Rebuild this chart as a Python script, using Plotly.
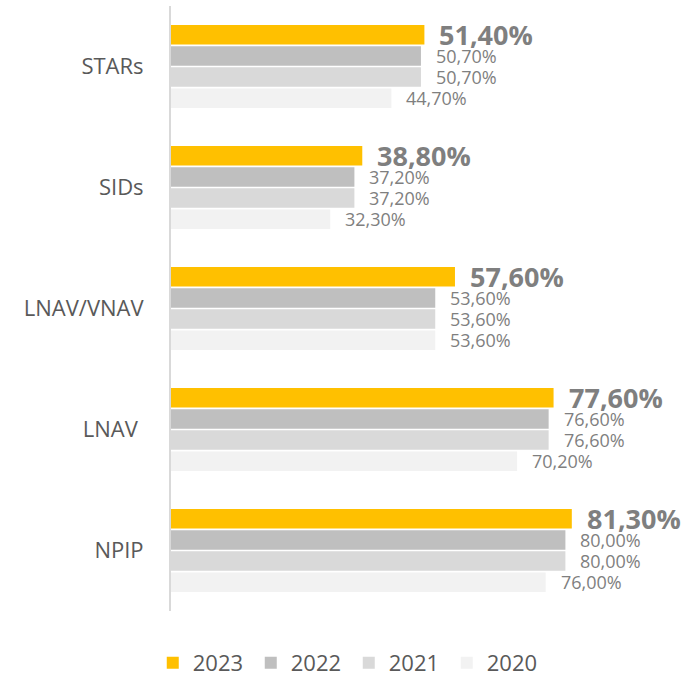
import plotly.graph_objects as go

categories = ["STARs", "SIDs", "LNAV/VNAV", "LNAV ", "NPIP"]
series_names = ["2023", "2022", "2021", "2020"]
values_2023 = [51.4, 38.8, 57.6, 77.6, 81.3]
values_2022 = [50.7, 37.2, 53.6, 76.6, 80.0]
values_2021 = [50.7, 37.2, 53.6, 76.6, 80.0]
values_2020 = [44.7, 32.3, 53.6, 70.2, 76.0]
colors = ["#FFC000", "#BFBFBF", "#D9D9D9", "#F2F2F2"]

all_values = [values_2023, values_2022, values_2021, values_2020]

BARGAP = 0.30
fig = go.Figure()
for name, vals, col in zip(series_names, all_values, colors):
    fig.add_trace(go.Bar(
        y=categories, x=vals, name=name, orientation="h",
        marker=dict(color=col, line=dict(width=0)),
        hoverinfo="skip",
    ))

def fmt(v):
    return f"{v:.2f}".replace(".", ",") + "%"

slot = (1 - BARGAP) / 4
annotations = []
for j, vals in enumerate(all_values):
    for i, v in enumerate(vals):
        bold = j == 0
        annotations.append(dict(
            x=v, y=i + (j - 1.5) * slot, xref="x", yref="y",
            text=f"<b>{fmt(v)}</b>" if bold else fmt(v),
            showarrow=False, xanchor="left", yanchor="middle",
            xshift=13,
            font=dict(size=27 if bold else 18, color="#7F7F7F", family="Open Sans"),
        ))

fig.update_layout(
    width=686, height=674,
    margin=dict(l=171, r=22, t=6, b=63, autoexpand=False),
    barmode="group", bargap=BARGAP, bargroupgap=0.08,
    plot_bgcolor="white", paper_bgcolor="white",
    font=dict(family="Open Sans", color="#595959"),
    annotations=annotations,
    showlegend=True,
    legend=dict(orientation="h", x=-0.037, xanchor="left", y=-0.051, yanchor="top",
                font=dict(size=22, color="#595959"), traceorder="normal",
                entrywidth=53, entrywidthmode="pixels"),
    xaxis=dict(range=[0, 100], showgrid=False, zeroline=False, showticklabels=False,
               showline=False, fixedrange=True),
    yaxis=dict(autorange="reversed", showgrid=False, zeroline=False, showline=True,
               linecolor="#D9D9D9", linewidth=2, ticks="", ticklabelstandoff=21,
               automargin=False, fixedrange=True, tickfont=dict(size=22, color="#595959")),
)

fig.write_html(
    "out.html",
    config={"displayModeBar": False, "staticPlot": True},
    post_script="document.body.style.margin='0';document.body.style.overflow='hidden';",
)
